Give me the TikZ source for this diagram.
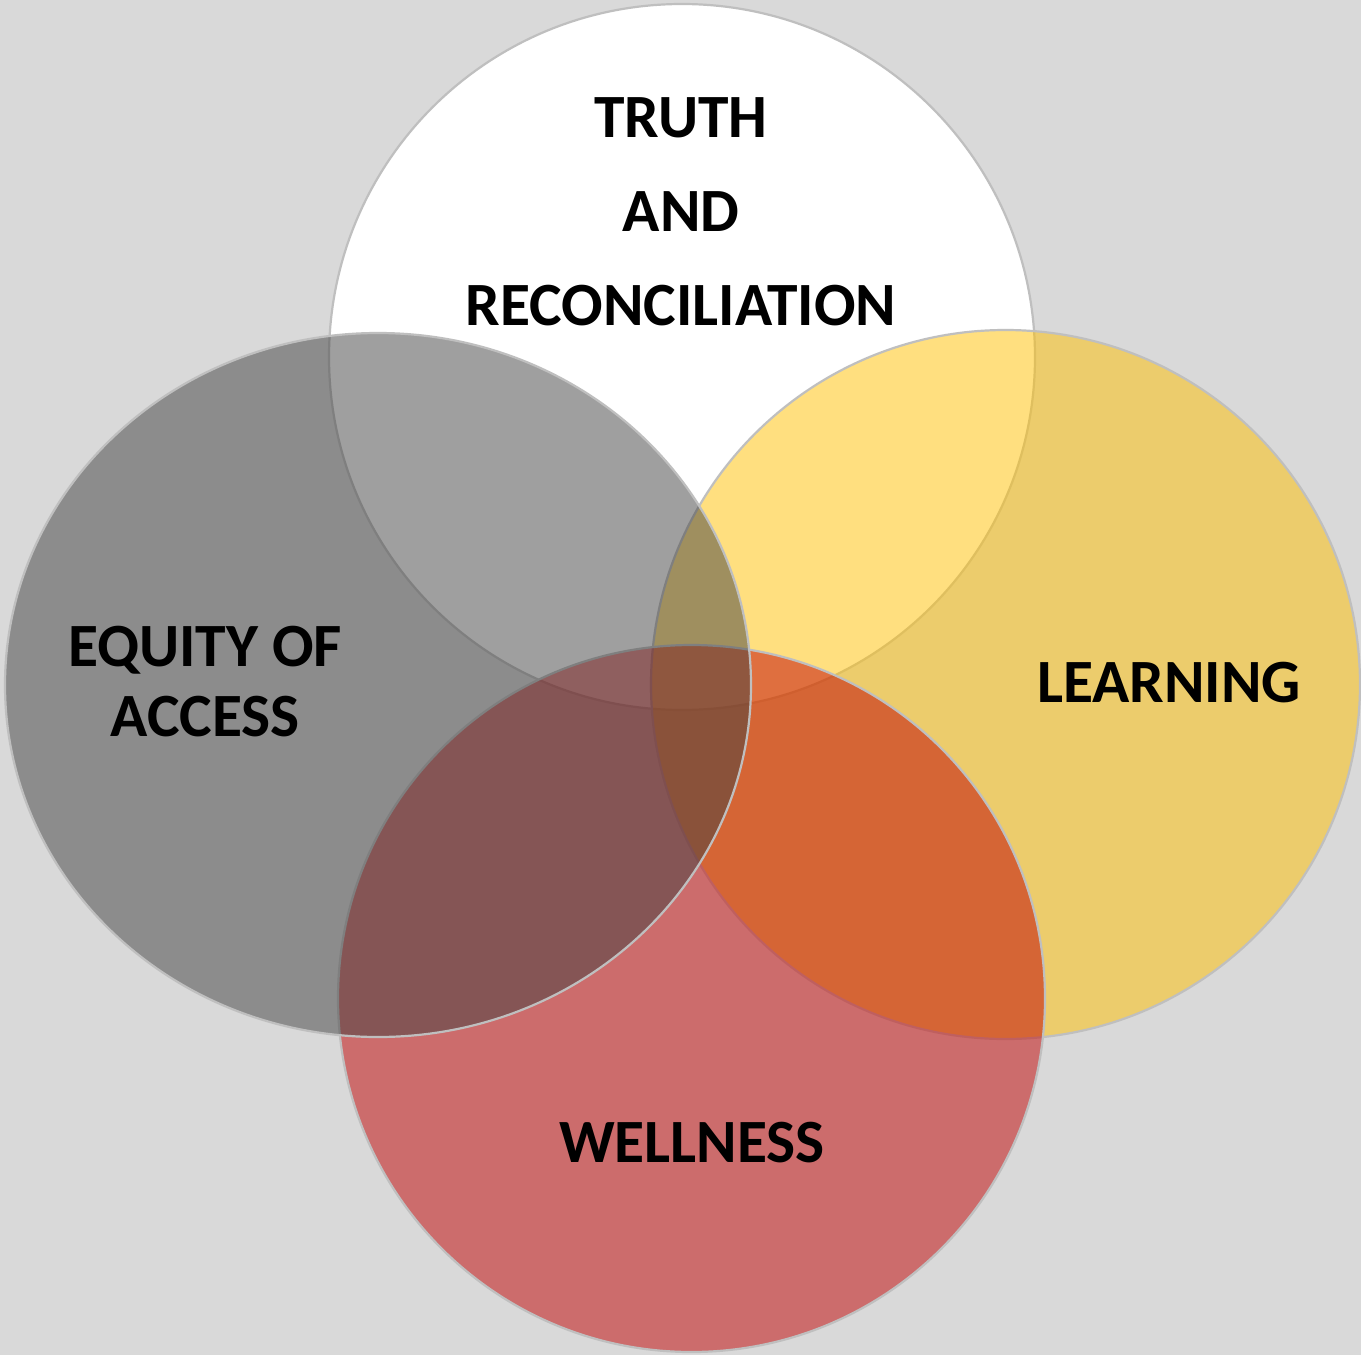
\documentclass[tikz,border=0pt]{standalone}
\usepackage{fontspec}
\setmainfont{Carlito}
\usetikzlibrary{shapes.geometric}
\definecolor{bgcol}{HTML}{D9D9D9}
\definecolor{rimcol}{HTML}{BFBFBF}
\definecolor{yelcol}{HTML}{FFC000}
\definecolor{redcol}{HTML}{C00000}
\definecolor{grycol}{HTML}{404040}
\begin{document}
\begin{tikzpicture}[x=1pt,y=-1pt,
  disc/.style={ellipse, inner sep=0pt, draw=rimcol, line width=2.2pt},
  lbl/.style={anchor=base, inner sep=0pt, font=\bfseries\fontsize{61.5}{74}\selectfont, text=black}]
  \fill[bgcol] (0,0) rectangle (1361,1355);
  \useasboundingbox (0,0) rectangle (1361,1355);
  % circles, drawn bottom to top
  \node[disc, fill=white, minimum width=706pt, minimum height=706pt] (ctop) at (682,357) {};
  \node[disc, fill=yelcol, fill opacity=0.5, minimum width=709pt, minimum height=709pt] (cright) at (1005.5,684.5) {};
  \node[disc, fill=redcol, fill opacity=0.5, minimum width=707pt, minimum height=707pt] (cbottom) at (691.5,998.5) {};
  \node[disc, fill=grycol, fill opacity=0.5, minimum width=746pt, minimum height=704pt] (cleft) at (378,685) {};
  % labels
  \node[lbl] (t1) at (681,137) {TRUTH};
  \node[lbl] (t2) at (681,231) {AND};
  \node[lbl] (t3) at (681,325) {RECONCILIATION};
  \node[lbl] (e1) at (205,666) {EQUITY OF};
  \node[lbl] (e2) at (205,736) {ACCESS};
  \node[lbl] (learn) at (1169,702) {LEARNING};
  \node[lbl] (well) at (692,1162) {WELLNESS};
\end{tikzpicture}
\end{document}
